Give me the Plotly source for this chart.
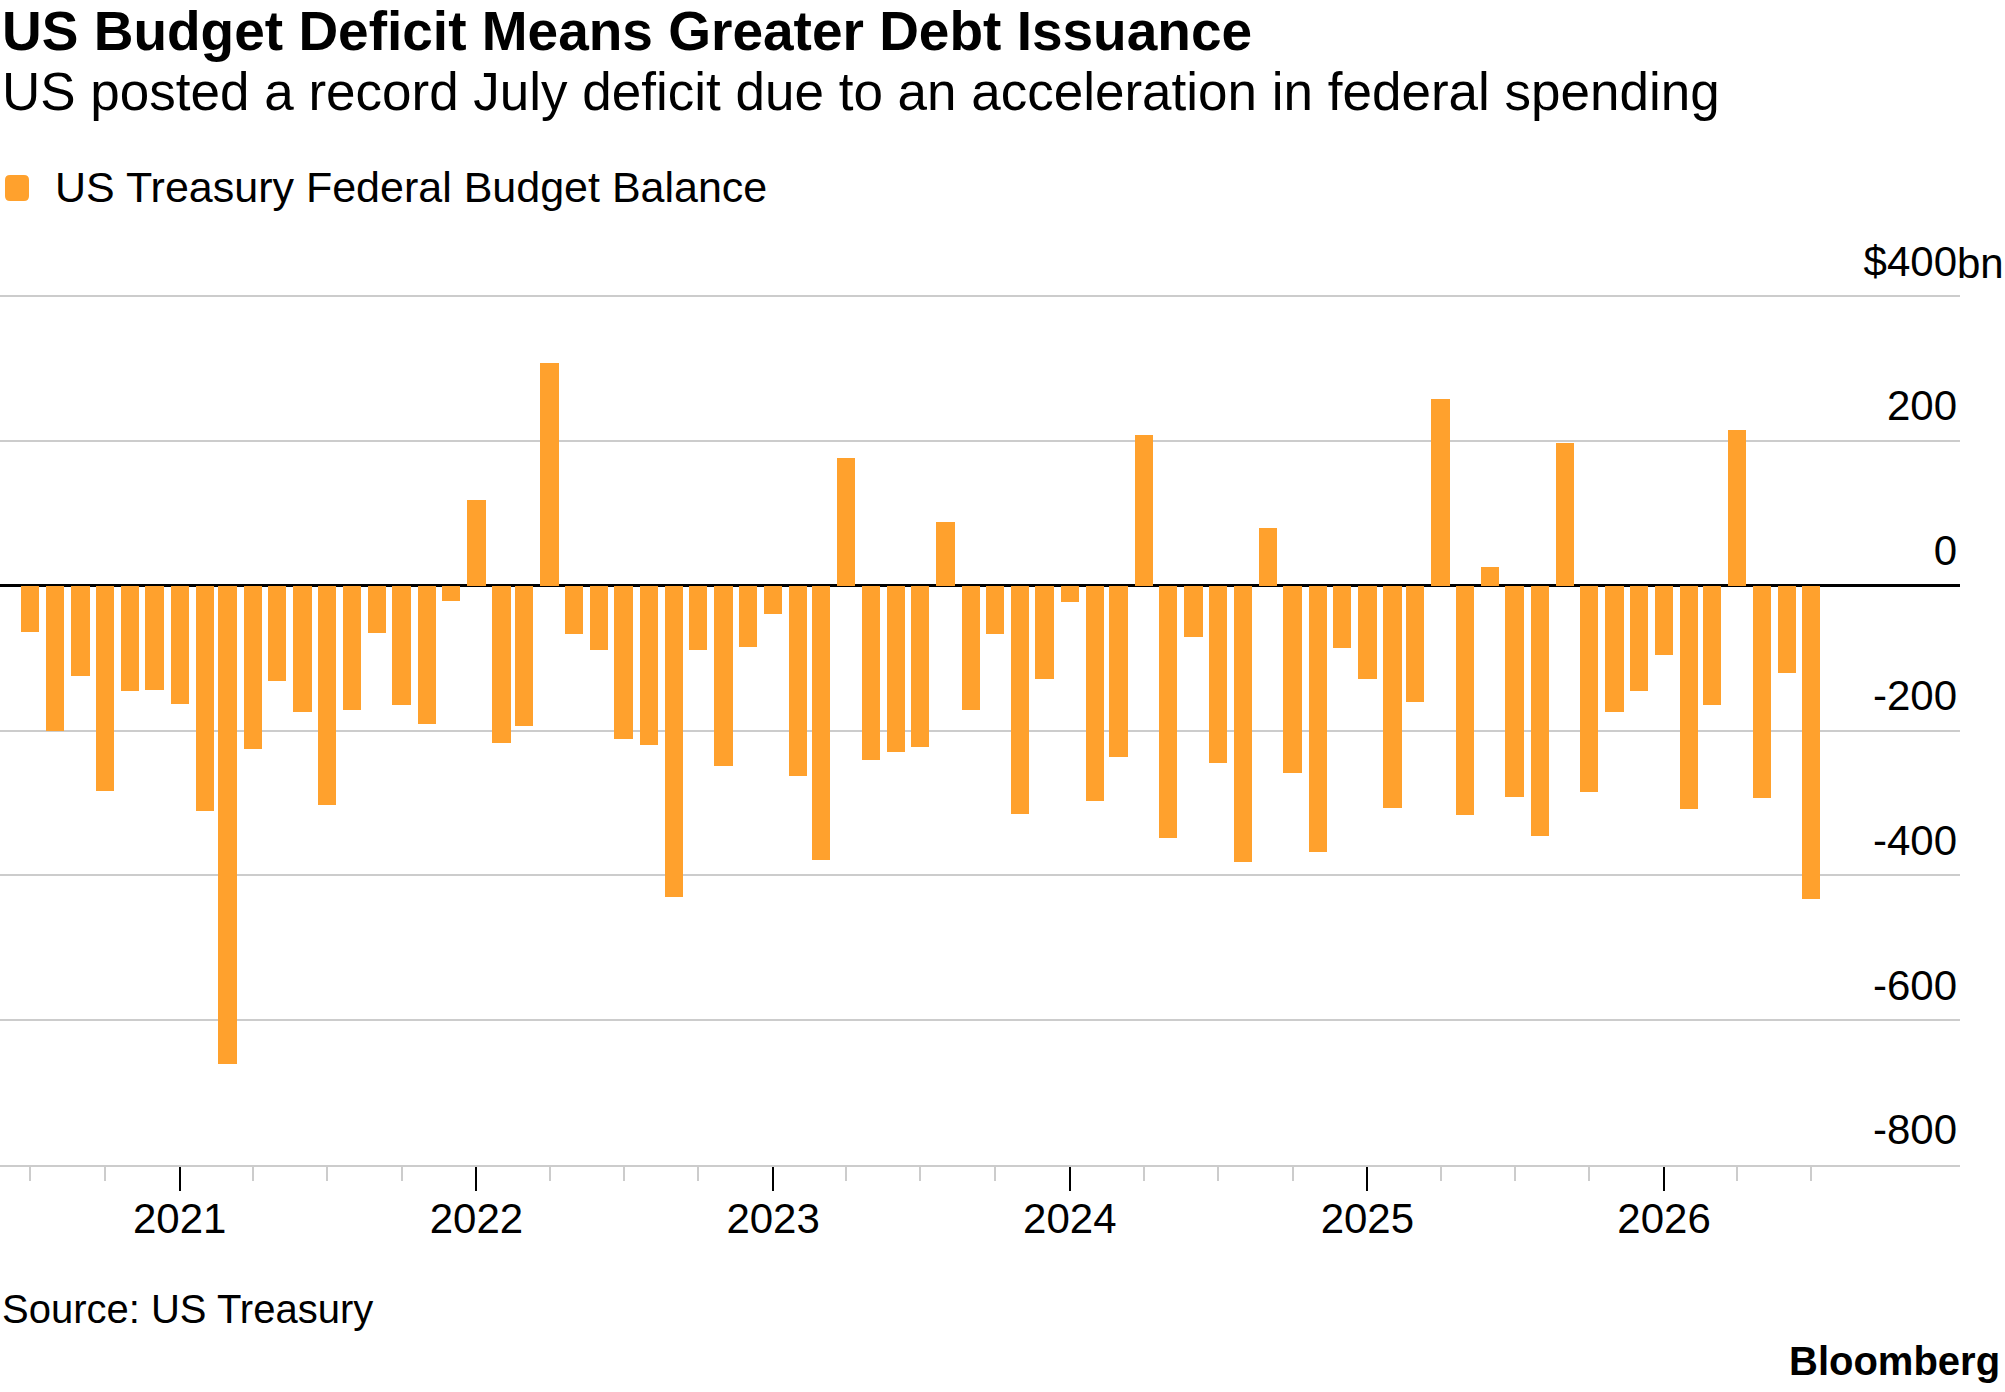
import pandas as pd
import plotly.graph_objects as go

# Monthly US Treasury federal budget balance, $bn (Jul 2020 .. Jul 2026)
START_MONTH = "2020-07-01"
balance = [
    -63, -200, -125, -284, -145, -144,            # 2020 Jul-Dec
    -163, -311, -660, -226, -132, -174,           # 2021 Jan-Jun
    -302, -171, -65, -165, -191, -21,             # 2021 Jul-Dec
    119, -217, -193, 308, -66, -89,               # 2022 Jan-Jun
    -211, -220, -430, -88, -249, -85,             # 2022 Jul-Dec
    -39, -263, -379, 176, -241, -229,             # 2023 Jan-Jun
    -222, 88, -171, -67, -315, -129,              # 2023 Jul-Dec
    -22, -297, -237, 209, -348, -71,              # 2024 Jan-Jun
    -244, -381, 80, -258, -368, -86,              # 2024 Jul-Dec
    -129, -307, -161, 258, -317, 26,              # 2025 Jan-Jun
    -292, -346, 198, -285, -174, -145,            # 2025 Jul-Dec
    -95, -308, -165, 215, -293, -120,             # 2026 Jan-Jun
    -432,                                         # 2026 Jul
]
months = pd.date_range(START_MONTH, periods=len(balance), freq="MS")

year_ticks = ["2021", "2022", "2023", "2024", "2025", "2026"]
y_ticks = [-800, -600, -400, -200, 0, 200, 400]
y_tick_text = ["-800", "-600", "-400", "-200", "0", "200", "$400"]

ORANGE = "#ffa12d"
GRID = "#cccccc"
FONT = "Liberation Sans, Arial, Helvetica, sans-serif"
DAY_MS = 86400000

W, H = 2005, 1392
Y_RANGE = [-800, 540]          # headroom so the top label isn't clipped
M_L, M_R, M_T, M_B = 0, 45, 195, 227
PLOT_W = W - M_L - M_R
PLOT_H = H - M_T - M_B
LABEL_SHIFT = -6               # negative lifts the y labels off their gridlines


def py(px_from_top):
    """pixel row -> paper y"""
    return (H - M_B - px_from_top) / PLOT_H


def px(px_from_left):
    return (px_from_left - M_L) / PLOT_W


fig = go.Figure(go.Bar(
    x=months, y=balance, width=22.5 * DAY_MS,
    marker=dict(color=ORANGE, line=dict(width=0)),
    name="US Treasury Federal Budget Balance", showlegend=False,
))

quarter_ticks = [m for m in months if m.month in (1, 4, 7, 10)]

fig.update_xaxes(
    type="date", range=["2020-05-25", "2026-12-31"],
    tickmode="array", tickvals=[f"{y}-01-01" for y in year_ticks], ticktext=year_ticks,
    ticks="outside", ticklen=24, tickwidth=2, tickcolor="black",
    tickfont=dict(size=42, color="black"), ticklabelstandoff=-8,
    showgrid=False, zeroline=False,
    showline=True, linecolor=GRID, linewidth=2,
    minor=dict(tickmode="array", tickvals=quarter_ticks, ticks="outside",
               ticklen=14, tickwidth=2, tickcolor=GRID, showgrid=False),
    fixedrange=True,
)
fig.update_yaxes(
    side="right", range=Y_RANGE,
    tickmode="array", tickvals=y_ticks, ticktext=y_tick_text,
    ticklabelposition="inside top", ticks="", ticklabelshift=LABEL_SHIFT,
    tickfont=dict(size=42, color="black"),
    showgrid=True, gridcolor=GRID, gridwidth=2,
    zeroline=True, zerolinecolor="black", zerolinewidth=3,
    showline=False, fixedrange=True,
)

annos = [
    dict(text="<b>US Budget Deficit Means Greater Debt Issuance</b>",
         x=px(0), y=py(31), xanchor="left", yanchor="middle", font=dict(size=55)),
    dict(text="US posted a record July deficit due to an acceleration in federal spending",
         x=px(0), y=py(92), xanchor="left", yanchor="middle", font=dict(size=53)),
    dict(text="US Treasury Federal Budget Balance",
         x=px(53), y=py(187), xanchor="left", yanchor="middle", font=dict(size=43)),
    dict(text="bn", x=px(1955), y=400, yref="y", xanchor="left", yanchor="bottom",
         yshift=1 - LABEL_SHIFT, font=dict(size=42)),
    dict(text="Source: US Treasury",
         x=px(0), y=py(1309), xanchor="left", yanchor="middle", font=dict(size=40)),
    dict(text="<b>Bloomberg</b>",
         x=px(2002), y=py(1361), xanchor="right", yanchor="middle",
         font=dict(size=40)),
]
for a in annos:
    a.setdefault("xref", "paper")
    a.setdefault("yref", "paper")
    a["showarrow"] = False
    a["font"].setdefault("color", "black")
    fig.add_annotation(**a)

# legend swatch: small rounded square
x0, x1 = px(5), px(29)
y0, y1 = py(201), py(175)
rx, ry = px(5) - px(0), py(0) - py(5)
swatch = (f"M {x0+rx},{y0} L {x1-rx},{y0} Q {x1},{y0} {x1},{y0+ry} "
          f"L {x1},{y1-ry} Q {x1},{y1} {x1-rx},{y1} L {x0+rx},{y1} "
          f"Q {x0},{y1} {x0},{y1-ry} L {x0},{y0+ry} Q {x0},{y0} {x0+rx},{y0} Z")
fig.add_shape(type="path", xref="paper", yref="paper", path=swatch,
              fillcolor=ORANGE, line=dict(width=0))

fig.update_layout(
    width=W, height=H,
    margin=dict(l=M_L, r=M_R, t=M_T, b=M_B, autoexpand=False),
    plot_bgcolor="white", paper_bgcolor="white",
    font=dict(family=FONT, color="black"),
    bargap=0, showlegend=False,
)

# drop the default 8px body margin so the figure sits flush in the window
fig.write_html("out.html", config={"displayModeBar": False},
               post_script="document.body.style.margin='0';")
